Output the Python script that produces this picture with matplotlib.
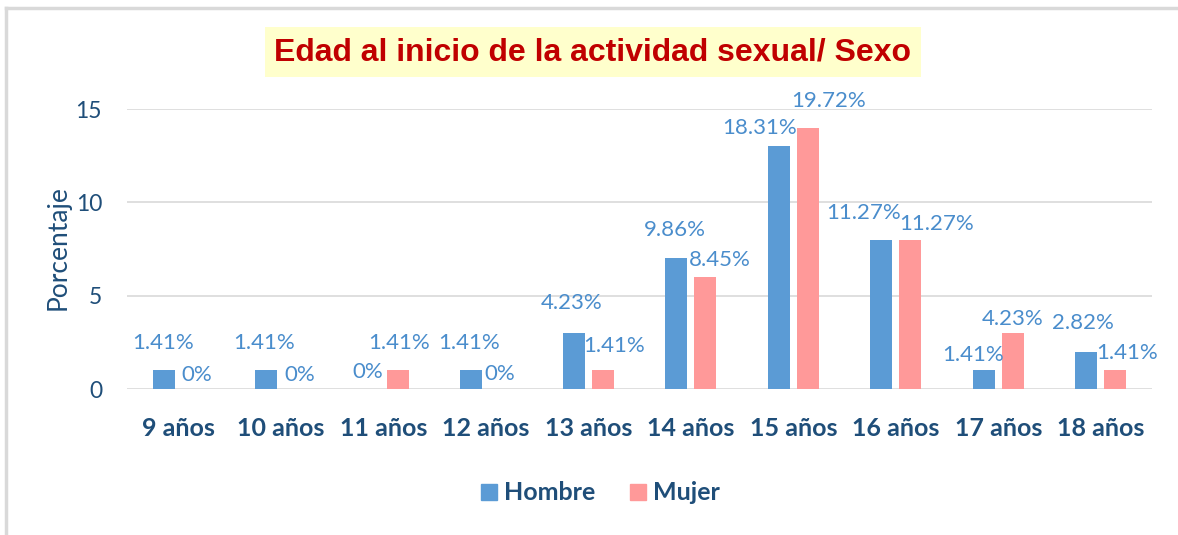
import matplotlib
matplotlib.use("Agg")
import matplotlib.pyplot as plt
from matplotlib.lines import Line2D
import numpy as np

categories = ["9 años", "10 años", "11 años", "12 años", "13 años",
              "14 años", "15 años", "16 años", "17 años", "18 años"]
hombre = [1, 1, 0, 1, 3, 7, 13, 8, 1, 2]
mujer = [0, 0, 1, 0, 1, 6, 14, 8, 3, 1]
hombre_labels = ["1.41%", "1.41%", "0%", "1.41%", "4.23%", "9.86%",
                 "18.31%", "11.27%", "1.41%", "2.82%"]
mujer_labels = ["0%", "0%", "1.41%", "0%", "1.41%", "8.45%",
                "19.72%", "11.27%", "4.23%", "1.41%"]
yticks = [0, 5, 10, 15]

# label offsets (pixels) from the top centre of each bar
h_off = [(-1, 27), (-2, 27), (-1, 17), (-2, 27), (-2, 30), (-2, 28),
         (-19, 18), (-18, 27), (-11, 15), (-3, 29)]
m_off = [(4, 14), (5, 14), (1, 27), (0, 15), (11, 24), (15, 17),
         (21, 27), (26, 16), (0, 14), (12, 17)]

C_H = "#5B9BD5"
C_M = "#FF9999"
C_LBL = "#4A8DCC"
C_TXT = "#1F4E79"
FONT = "Lato"

fig = plt.figure(figsize=(11.78, 5.35), dpi=100)
ax = fig.add_axes([127 / 1178, 1 - 389 / 535, 1025 / 1178, 280 / 535])

x = np.arange(len(categories))
w = 0.215
off = 0.14
bh = ax.bar(x - off, hombre, w, color=C_H, zorder=3)
bm = ax.bar(x + off, mujer, w, color=C_M, zorder=3)

for i in range(len(categories)):
    ax.annotate(hombre_labels[i], (x[i] - off, hombre[i]), xytext=h_off[i],
                textcoords="offset pixels", ha="center", va="center",
                color=C_LBL, fontsize=16, family=FONT, annotation_clip=False)
    ax.annotate(mujer_labels[i], (x[i] + off, mujer[i]), xytext=m_off[i],
                textcoords="offset pixels", ha="center", va="center",
                color=C_LBL, fontsize=16, family=FONT, annotation_clip=False)

ax.set_xlim(-0.5, len(categories) - 0.5)
ax.set_ylim(0, 15)
ax.set_yticks(yticks)
ax.set_yticklabels([str(v) for v in yticks], family=FONT, fontsize=16.5, color=C_TXT)
ax.set_xticks(x)
ax.set_xticklabels(categories, family=FONT, fontsize=18, fontweight="bold", color=C_TXT)
ax.tick_params(axis="both", length=0)
ax.tick_params(axis="x", pad=20)
ax.tick_params(axis="y", pad=18)
ax.grid(axis="y", color="#D9D9D9", linewidth=1.2, zorder=0)
for s in ax.spines.values():
    s.set_visible(False)

fig.text(58 / 1178, 1 - 248 / 535, "Porcentaje", rotation=90, ha="center", va="center",
         family=FONT, fontsize=19, color=C_TXT)

fig.text(593 / 1178, 1 - 52 / 535, "Edad al inicio de la actividad sexual/ Sexo",
         ha="center", va="center", family=["Liberation Sans Narrow", "Liberation Sans"],
         fontweight="bold", fontsize=23, color="#C00000",
         bbox=dict(facecolor="#FFFFCC", edgecolor="none", pad=7))

handles = [Line2D([], [], marker="s", linestyle="none", markersize=12, color=C_H),
           Line2D([], [], marker="s", linestyle="none", markersize=12, color=C_M)]
fig.legend(handles, ["Hombre", "Mujer"], loc="center", bbox_to_anchor=(598 / 1178, 1 - 493 / 535),
           ncol=2, frameon=False, handletextpad=0.1, columnspacing=1.2, handlelength=1.0,
           prop=dict(family=FONT, size=18, weight="bold"), labelcolor=C_TXT)

fig.add_artist(Line2D([6 / 1178, 6 / 1178], [0, 1 - 8 / 535], transform=fig.transFigure,
                      color="#D9D9D9", linewidth=2.5))
fig.add_artist(Line2D([6 / 1178, 1], [1 - 8 / 535, 1 - 8 / 535], transform=fig.transFigure,
                      color="#D9D9D9", linewidth=2.5))

fig.savefig("out.png", dpi=100)
